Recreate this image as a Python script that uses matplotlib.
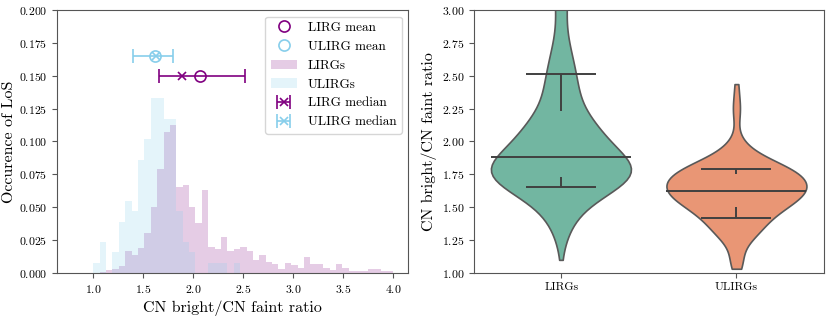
import numpy as np
import pandas as pd
import matplotlib
matplotlib.use("Agg")
import matplotlib.pyplot as plt
import seaborn as sns

plt.rcParams.update({
    "font.family": "serif",
    "font.serif": ["cmr10"],
    "mathtext.fontset": "cm",
    "axes.formatter.use_mathtext": True,
    "axes.unicode_minus": False,
    "axes.edgecolor": "#555555",
    "xtick.color": "#555555",
    "ytick.color": "#555555",
    "xtick.labelcolor": "black",
    "ytick.labelcolor": "black",
})

# ---------------- data ----------------
bin_lo, bin_hi, n_bins = 1.0, 4.0, 47
lirg_hist = [0, 0.001, 0.002, 0.003, 0.005, 0.017, 0.0137, 0.0188, 0.0307, 0.050,
             0.079, 0.107, 0.1125, 0.065, 0.067, 0.050, 0.0377, 0.0634, 0.0198, 0.0185,
             0.027, 0.0167, 0.018, 0.0198, 0.017, 0.0099, 0.0134, 0.0081, 0.0066, 0.003,
             0.0075, 0.006, 0.004, 0.012, 0.0066, 0.0066, 0.004, 0.002, 0.0066, 0.004,
             0.0015, 0.0015, 0.0015, 0.0027, 0.0027, 0.0015, 0.0015]
ulirg_hist = [0.0078, 0.0234, 0, 0.0156, 0.039, 0.0547, 0.0469, 0.0859, 0.1016, 0.1328,
              0.1328, 0.1172, 0.1172, 0.0469, 0.0234, 0.0156, 0, 0, 0.0078, 0.0078,
              0.0078, 0, 0.0078, 0, 0, 0, 0, 0, 0, 0,
              0, 0, 0, 0, 0, 0, 0, 0, 0, 0,
              0, 0, 0, 0, 0, 0, 0]
n_lirg, n_ulirg = 660, 128  # estimated number of lines of sight

lirg_mean, lirg_median, lirg_lo, lirg_hi = 2.066, 1.888, 1.654, 2.515
ulirg_mean, ulirg_median, ulirg_lo, ulirg_hi = 1.620, 1.627, 1.400, 1.795
lirg_y, ulirg_y = 0.150, 0.165

groups = ["LIRGs", "ULIRGs"]
v_median = [1.885, 1.625]
v_q_lo = [1.65, 1.42]
v_q_hi = [2.51, 1.79]
v_stub_hi = [2.23, 1.75]
v_stub_lo = [1.73, 1.50]

# ---------------- figure ----------------
fig = plt.figure(figsize=(8.3, 3.17), dpi=100)
ax1 = fig.add_axes([0.0687, 0.139, 0.423, 0.8295])
ax2 = fig.add_axes([0.571, 0.139, 0.4217, 0.8295])

edges = np.linspace(bin_lo, bin_hi, n_bins + 1)
centers = 0.5 * (edges[:-1] + edges[1:])

purple = "purple"
blue = "skyblue"

ax1.plot([lirg_mean], [lirg_y], "o", mfc="none", mec=purple, ms=8, mew=1.2, label="LIRG mean")
ax1.plot([ulirg_mean], [ulirg_y], "o", mfc="none", mec=blue, ms=8, mew=1.2, label="ULIRG mean")
ax1.hist(centers, bins=edges, weights=lirg_hist, color=purple, alpha=0.2, label="LIRGs")
ax1.hist(centers, bins=edges, weights=ulirg_hist, color=blue, alpha=0.22, label="ULIRGs")
ax1.errorbar([lirg_median], [lirg_y], xerr=[[lirg_median - lirg_lo], [lirg_hi - lirg_median]],
             fmt="x", color=purple, ms=6, capsize=5, lw=1.2, mew=1.2, label="LIRG median")
ax1.errorbar([ulirg_median], [ulirg_y], xerr=[[ulirg_median - ulirg_lo], [ulirg_hi - ulirg_median]],
             fmt="x", color=blue, ms=6, capsize=5, lw=1.2, mew=1.2, label="ULIRG median")

ax1.set_xlim(0.637, 4.147)
ax1.set_ylim(0, 0.2)
ax1.set_xticks([1.0, 1.5, 2.0, 2.5, 3.0, 3.5, 4.0])
ax1.set_yticks(np.arange(0, 0.201, 0.025))
ax1.set_xlabel("CN bright/CN faint ratio", fontsize=11.5)
ax1.set_ylabel("Occurence of LoS", fontsize=11.5, labelpad=2)
ax1.tick_params(labelsize=8.5)
ax1.legend(loc="upper right", fontsize=9.5)

# violin
lirg_sample = np.repeat(centers, np.round(np.array(lirg_hist) * n_lirg).astype(int))
ulirg_sample = np.repeat(centers, np.round(np.array(ulirg_hist) * n_ulirg).astype(int))
df = pd.DataFrame({
    "group": ["LIRGs"] * len(lirg_sample) + ["ULIRGs"] * len(ulirg_sample),
    "ratio": np.concatenate([lirg_sample, ulirg_sample]),
})
sns.violinplot(data=df, x="group", y="ratio", hue="group", palette="Set2", cut=0,
               density_norm="width", inner=None, linewidth=1.2, ax=ax2, legend=False)
pos = np.arange(len(groups))
lc = "#404040"
ax2.hlines(v_median, pos - 0.4, pos + 0.4, color=lc, lw=1.4)
ax2.hlines(v_q_lo, pos - 0.2, pos + 0.2, color=lc, lw=1.4)
ax2.hlines(v_q_hi, pos - 0.2, pos + 0.2, color=lc, lw=1.4)
ax2.vlines(pos, v_stub_hi, v_q_hi, color=lc, lw=1.4)
ax2.vlines(pos, v_q_lo, v_stub_lo, color=lc, lw=1.4)
ax2.set_xlim(-0.5, 1.5)
ax2.set_ylim(1.0, 3.0)
ax2.set_xticks(pos)
ax2.set_xticklabels(groups)
ax2.set_xlabel("")
ax2.set_ylabel("CN bright/CN faint ratio", fontsize=11.5, labelpad=3)
ax2.tick_params(labelsize=8.5)

fig.savefig("out.png", dpi=100)
